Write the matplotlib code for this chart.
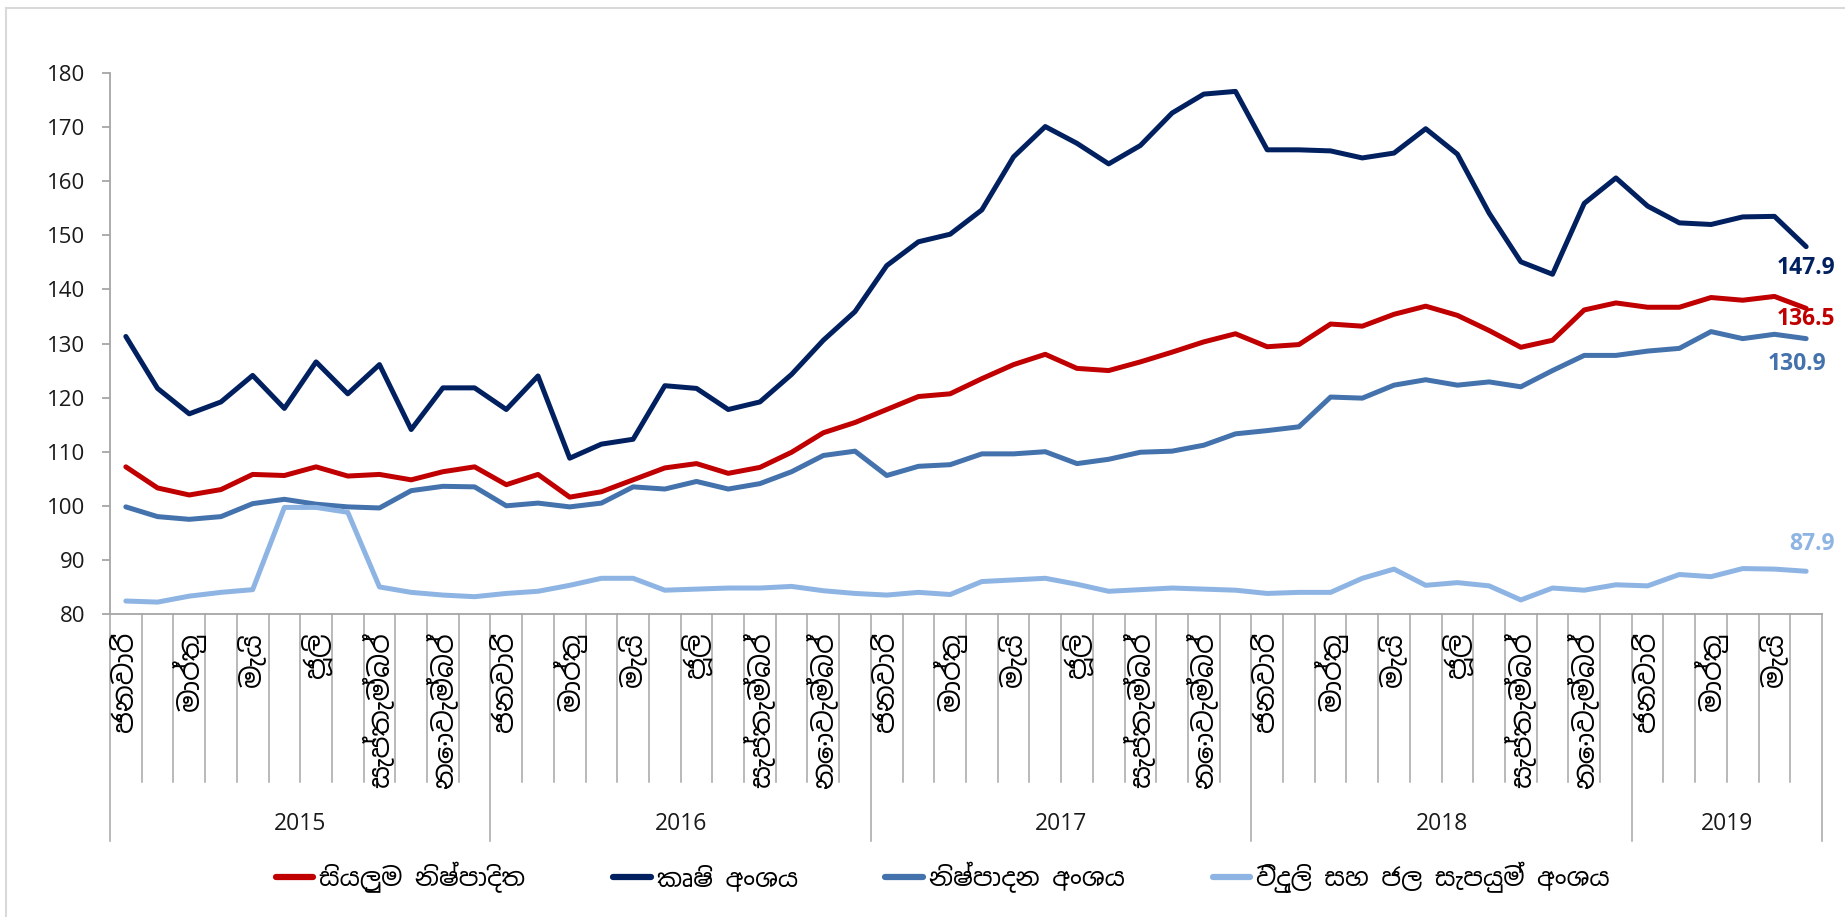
import matplotlib
matplotlib.use("Agg")
import matplotlib.pyplot as plt
from matplotlib import font_manager
from matplotlib.lines import Line2D
from matplotlib.patches import Rectangle
import numpy as np

# monthly index, Jan 2015 - Jun 2019
YEARS = ["2015", "2016", "2017", "2018", "2019"]
MONTHS_PER_YEAR = [12, 12, 12, 12, 6]
MONTH_NAMES = ["ජනවාරි", "", "මාර්තු", "", "මැයි", "", "ජූලි", "",
               "සැප්තැම්බර්", "", "නොවැම්බර්", ""]

SERIES_NAMES = ["සියලුම නිෂ්පාදිත", "කෘෂි අංශය", "නිෂ්පාදන අංශය",
                "විදුලි සහ ජල සැපයුම් අංශය"]

overall = [107.2, 103.3, 102.0, 103.0, 105.8, 105.6, 107.2, 105.5, 105.8, 104.8, 106.3, 107.2,
           103.9, 105.8, 101.6, 102.6, 104.8, 107.0, 107.8, 106.0, 107.1, 109.9, 113.5, 115.4,
           117.8, 120.2, 120.7, 123.5, 126.1, 128.0, 125.4, 125.0, 126.6, 128.4, 130.3, 131.8,
           129.4, 129.8, 133.6, 133.2, 135.4, 136.9, 135.2, 132.4, 129.3, 130.6, 136.2, 137.5,
           136.7, 136.7, 138.5, 138.0, 138.7, 136.5]

agriculture = [131.3, 121.7, 117.0, 119.2, 124.1, 118.0, 126.6, 120.7, 126.1, 114.1, 121.8, 121.8,
               117.8, 124.0, 108.8, 111.4, 112.3, 122.2, 121.7, 117.8, 119.2, 124.3, 130.6, 135.9,
               144.4, 148.8, 150.2, 154.7, 164.5, 170.1, 167.0, 163.2, 166.6, 172.6, 176.1, 176.6,
               165.8, 165.8, 165.6, 164.3, 165.2, 169.7, 165.0, 154.1, 145.1, 142.8, 155.9, 160.6,
               155.4, 152.3, 152.0, 153.4, 153.5, 147.9]

manufacturing = [99.8, 98.0, 97.5, 98.0, 100.4, 101.2, 100.3, 99.8, 99.6, 102.8, 103.6, 103.5,
                 100.0, 100.5, 99.8, 100.5, 103.5, 103.1, 104.5, 103.1, 104.1, 106.3, 109.3, 110.1,
                 105.6, 107.3, 107.6, 109.6, 109.6, 110.0, 107.8, 108.6, 109.9, 110.1, 111.2, 113.3,
                 113.9, 114.6, 120.1, 119.9, 122.3, 123.3, 122.3, 122.9, 122.0, 125.0, 127.8, 127.8,
                 128.6, 129.1, 132.2, 130.9, 131.7, 130.9]

utilities = [82.4, 82.2, 83.3, 84.0, 84.5, 99.7, 99.7, 98.8, 85.0, 84.0, 83.5, 83.2,
             83.8, 84.2, 85.3, 86.6, 86.6, 84.4, 84.6, 84.8, 84.8, 85.1, 84.3, 83.8,
             83.5, 84.0, 83.6, 86.0, 86.3, 86.6, 85.5, 84.2, 84.5, 84.8, 84.6, 84.4,
             83.8, 84.0, 84.0, 86.6, 88.3, 85.3, 85.8, 85.2, 82.6, 84.8, 84.4, 85.4,
             85.2, 87.3, 86.9, 88.4, 88.3, 87.9]

COLORS = ["#C00000", "#002060", "#4472AC", "#8EB4E3"]
# right edge of the last-value label, in pixels from the last point
LABEL_OFFSETS = [(29, -11), (29, -21), (20, -25), (29, 27)]

# pick up a Sinhala-capable font if the box has one
installed = {f.name for f in font_manager.fontManager.ttflist}
sinhala = [n for n in ["Noto Sans Sinhala", "Noto Sans Sinhala UI", "Noto Serif Sinhala",
                       "Iskoola Pota", "Nirmala UI", "LKLUG", "Abhaya Libre", "Yaldevi",
                       "FreeSans", "FreeSerif"] if n in installed]
TEXT_FONT = sinhala + ["Open Sans", "DejaVu Sans"]
plt.rcParams["font.family"] = ["Open Sans", "DejaVu Sans"]

GRAY = "#A6A6A6"


def main():
    series = [overall, agriculture, manufacturing, utilities]
    n = len(overall)
    x = np.arange(n)

    fig = plt.figure(figsize=(18.45, 9.17), dpi=100)
    ax = fig.add_axes([110 / 1845, 303 / 917, 1712 / 1845, 541 / 917])

    for vals, color, name in zip(series, COLORS, SERIES_NAMES):
        ax.plot(x, vals, color=color, lw=3.6, solid_capstyle="round",
                solid_joinstyle="round", label=name)

    ax.set_xlim(-0.5, n - 0.5)
    ax.set_ylim(80, 180)
    ax.set_yticks(range(80, 181, 10))
    ax.set_xticks([])
    for s in ["top", "right"]:
        ax.spines[s].set_visible(False)
    for s in ["left", "bottom"]:
        ax.spines[s].set_color(GRAY)
        ax.spines[s].set_linewidth(1.3)
    ax.tick_params(axis="y", direction="out", length=6, width=1.3, color=GRAY,
                   labelsize=16, pad=12, labelcolor="#1A1A1A")

    # two-level category axis drawn by hand (months, then years)
    ax_h = 541.0
    month_end = -168 / ax_h
    year_end = -227 / ax_h
    tr = ax.get_xaxis_transform()
    bounds = np.cumsum([0] + MONTHS_PER_YEAR) - 0.5
    for b in np.arange(-0.5, n, 1.0):
        low = year_end if np.isclose(bounds, b).any() else month_end
        ax.plot([b, b], [0, low], color=GRAY, lw=1.1, transform=tr, clip_on=False)

    month_labels = [MONTH_NAMES[m] for cnt in MONTHS_PER_YEAR for m in range(cnt)]
    for i, lab in enumerate(month_labels):
        if lab:
            ax.text(i, -18 / ax_h, lab, transform=tr, rotation=90, ha="center", va="top",
                    fontsize=20, family=TEXT_FONT, color="#000000")

    for k, yr in enumerate(YEARS):
        mid = (bounds[k] + bounds[k + 1]) / 2
        ax.text(mid, -210 / ax_h, yr, transform=tr, ha="center", va="center",
                fontsize=16.5, color="#1A1A1A")

    # last value labels
    for vals, color, off in zip(series, COLORS, LABEL_OFFSETS):
        ax.annotate(f"{vals[-1]:.1f}", xy=(n - 1, vals[-1]), xytext=off,
                    textcoords="offset pixels", ha="right", va="center",
                    fontsize=16.5, fontweight="bold", color=color)

    handles = [Line2D([0], [0], color=c, lw=4.5, solid_capstyle="round") for c in COLORS]
    fig.legend(handles, SERIES_NAMES, loc="center", bbox_to_anchor=(0.511, 0.0436),
               ncol=4, frameon=False, handlelength=1.5, handletextpad=0.25,
               columnspacing=3.5, prop={"family": TEXT_FONT, "size": 18})

    # chart-area border (only top and left edges fall inside the picture)
    fig.patches.append(Rectangle((0.003, -0.02), 1.02, 1.011, transform=fig.transFigure,
                                 fill=False, edgecolor="#D9D9D9", lw=1.5))

    fig.savefig("out.png", dpi=100, facecolor="white")


if __name__ == "__main__":
    main()
